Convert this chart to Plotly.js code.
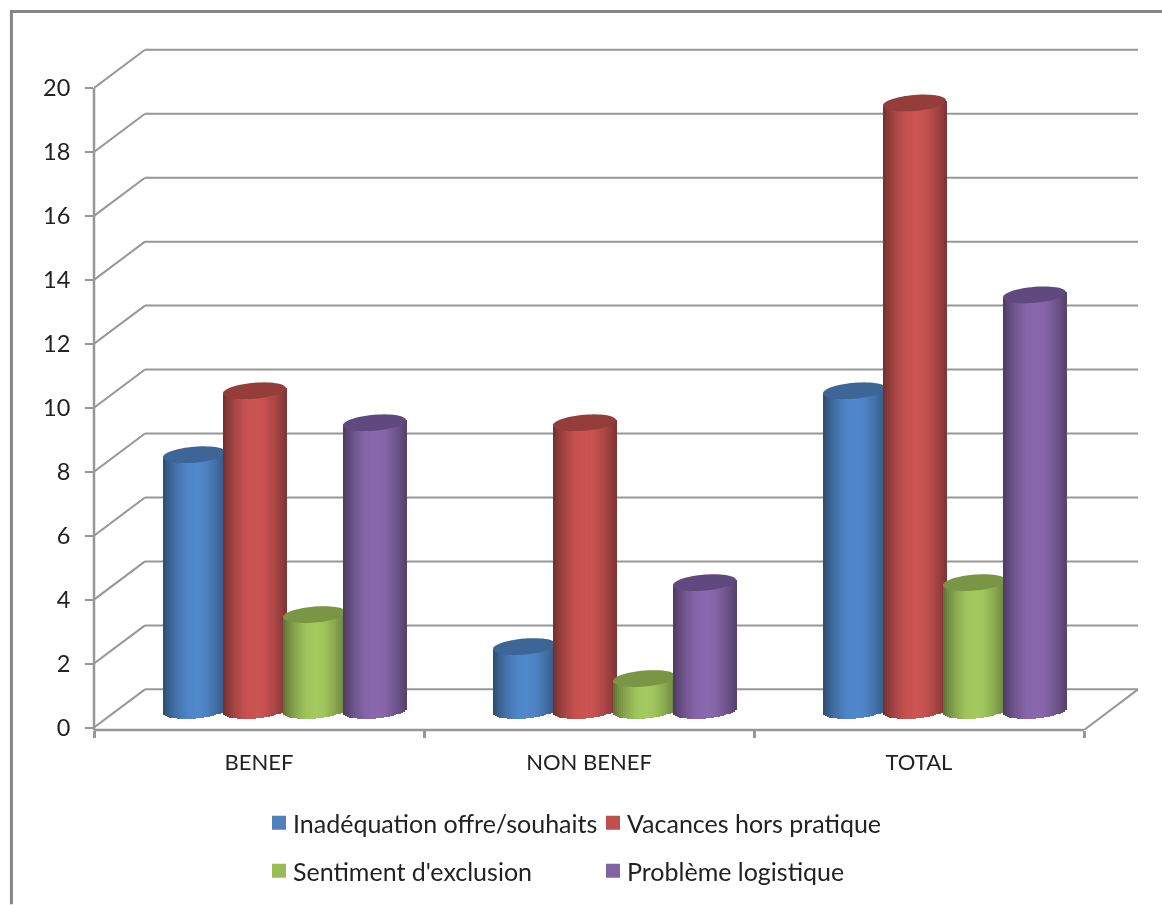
<!DOCTYPE html>
<html><head><meta charset="utf-8">
<script src="https://cdn.plot.ly/plotly-3.0.1.min.js"></script>
<style>
html,body{margin:0;padding:0;background:#fff}
#chart{width:1162px;height:905px;filter:blur(0.45px)}
.legendsymbols{transform:translateX(6px)}
</style></head><body><div id="chart"></div>
<script>
const categories = ['BENEF','NON BENEF','TOTAL'];
const seriesNames = ['Inadéquation offre/souhaits','Vacances hors pratique',"Sentiment d'exclusion",'Problème logistique'];
const inadequation = [8,2,10];
const vacances = [10,9,19];
const exclusion = [3,1,4];
const logistique = [9,4,13];
const yTicks = [0,2,4,6,8,10,12,14,16,18,20];

const allValues = [inadequation,vacances,exclusion,logistique];
const legendColors = ['#4f81bd','#c0504d','#9bbb59','#8064a2'];
const centerColors = ['#5088cc','#cc5452','#a4ca5e','#8a68ae'];
const capColors = ['#3d6697','#943d3b','#7a9645','#60497e'];

const PXX = 330, PXY = 32;            // pixels per axis unit
const plotL = 94, plotR = 1140, plotT = 40, plotB = 730.5, zeroY = 728;
const depth = 38.2/PXY;               // back wall offset (y)
const xBack0 = -0.5+51/PXX, xBack1 = 2.5+54/PXX;
const baseLift = 17/PXY;              // cylinder base above the front zero
const centers = [-64.5,-4.5,55.5,115.5].map(v=>v/PXX);
const a = 31.5/PXX, N = 31, tilt = 2.5/PXY, minor = 8/PXY;
const stops = [[-1,.55],[-.85,.68],[-.6,.83],[-.25,.97],[.05,1],[.3,.97],[.6,.85],[.85,.72],[1,.62]];
function factor(u){
  for(let i=1;i<stops.length;i++) if(u<=stops[i][0]){
    const [u0,f0]=stops[i-1],[u1,f1]=stops[i];
    return f0+(f1-f0)*(u-u0)/(u1-u0);
  }
  return stops[stops.length-1][1];
}
function shade(hex,f){
  const n=parseInt(hex.slice(1),16);
  const c=[n>>16,(n>>8)&255,n&255].map(v=>Math.round(v*f));
  return `rgb(${c[0]},${c[1]},${c[2]})`;
}

const traces = [];
allValues.forEach((vals,s)=>{
  // the plain bar that carries the series and its legend entry (hidden behind the strips)
  traces.push({type:'bar',x:categories,y:vals,base:vals.map(()=>baseLift),name:seriesNames[s],
    width:vals.map(()=>48/PXX),offset:vals.map(()=>centers[s]-24/PXX),
    marker:{color:legendColors[s],line:{width:2,color:legendColors[s]}},
    legend:s<2?'legend':'legend2',hoverinfo:'x+y+name'});
  for(let j=0;j<N;j++){
    const u=-1+(2*j+1)/N, w=2*a/N;
    const sag=minor*Math.sqrt(Math.max(0,1-u*u));
    const t=tilt*u;
    traces.push({type:'bar',x:categories,
      y:vals.map(v=>v+sag),
      base:vals.map(()=>baseLift+t-sag),
      width:vals.map(()=>w+0.6/PXX),
      offset:vals.map(()=>centers[s]+u*a-w/2),
      marker:{color:shade(centerColors[s],factor(u)),line:{width:0}},
      showlegend:false,hoverinfo:'skip'});
  }
});

const GRID='#979797';
const shapes=[];
function line(x0,y0,x1,y1,extra){shapes.push(Object.assign({type:'line',x0,y0,x1,y1,xref:'x',yref:'y',layer:'below',line:{color:GRID,width:2}},extra||{}));}
// back wall and its slanted returns
yTicks.forEach(k=>{
  line(xBack0,k+depth,xBack1,k+depth);
  line(-0.5,k,xBack0,k+depth);
});
// floor right edge and front axes
line(2.5,-2.5/PXY,xBack1,depth);
shapes.push({type:'line',xref:'paper',yref:'y',x0:0,x1:0,y0:-9/PXY,y1:20,layer:'below',line:{color:GRID,width:2.5}});
shapes.push({type:'line',xref:'x',yref:'paper',x0:-0.5,x1:2.5,y0:0,y1:0,layer:'below',line:{color:GRID,width:2.5}});
// outer frame
const fx=px=>(px-plotL)/(plotR-plotL), fy=py=>(plotB-py)/(plotB-plotT);
shapes.push({type:'line',xref:'paper',yref:'paper',x0:fx(10),x1:fx(1162),y0:fy(11.4),y1:fy(11.4),line:{color:'#858585',width:3}});
shapes.push({type:'line',xref:'paper',yref:'paper',x0:fx(11.4),x1:fx(11.4),y0:fy(10),y1:fy(905),line:{color:'#858585',width:3}});

// cylinder caps: tilted ellipses computed from each value
function ellipsePath(cat,s,v){
  const cx=cat+centers[s], cy=v+baseLift;
  const next=s<3?allValues[s+1][cat]:-1;
  const lim=(s<3&&next>v)?cat+centers[s+1]-a:Infinity;
  let d='';
  for(let i=0;i<60;i++){
    const th=i/60*2*Math.PI;
    const x=Math.min(cx+a*Math.cos(th),lim);
    const y=cy+tilt*Math.cos(th)+minor*Math.sin(th);
    d+=(i?'L':'M')+x.toFixed(5)+' '+y.toFixed(5);
  }
  return d+'Z';
}
allValues.forEach((vals,s)=>vals.forEach((v,c)=>{
  shapes.push({type:'path',xref:'x',yref:'y',path:ellipsePath(c,s,v),fillcolor:capColors[s],line:{width:0},layer:'above'});
}));

const fontFam='Lato, "Open Sans", sans-serif';
const leg=(px,py)=>({orientation:'h',xref:'container',yref:'container',x:px/1162,y:1-py/905,xanchor:'left',yanchor:'middle',
  entrywidth:289,entrywidthmode:'pixels',font:{family:fontFam,size:25,color:'#222'},bgcolor:'rgba(0,0,0,0)',traceorder:'normal'});
const layout={
  width:1162,height:905,paper_bgcolor:'#fff',plot_bgcolor:'rgba(0,0,0,0)',
  margin:{l:plotL,r:1162-plotR,t:plotT,b:905-plotB,pad:0},
  barmode:'overlay',bargap:0,
  font:{family:fontFam,color:'#222'},
  xaxis:{type:'category',categoryorder:'array',categoryarray:categories,range:[-0.5,-0.5+(plotR-plotL)/PXX],
    tickson:'boundaries',ticks:'outside',ticklen:7,tickwidth:2.5,tickcolor:GRID,showgrid:false,zeroline:false,showline:false,
    tickfont:{size:22,family:fontFam,color:'#222'},ticklabelstandoff:17,fixedrange:true},
  yaxis:{range:[(zeroY-plotB)/PXY,(zeroY-plotT)/PXY],tickmode:'array',tickvals:yTicks,ticktext:yTicks.map(String),
    ticks:'outside',ticklen:8,tickwidth:2,tickcolor:GRID,showgrid:false,zeroline:false,showline:false,
    tickfont:{size:23.5,family:fontFam,color:'#222'},ticklabelstandoff:10,fixedrange:true},
  legend:leg(253,823),legend2:leg(253,871),
  shapes:shapes,showlegend:true
};
Plotly.newPlot('chart',traces,layout,{displayModeBar:false,responsive:false});
</script></body></html>
